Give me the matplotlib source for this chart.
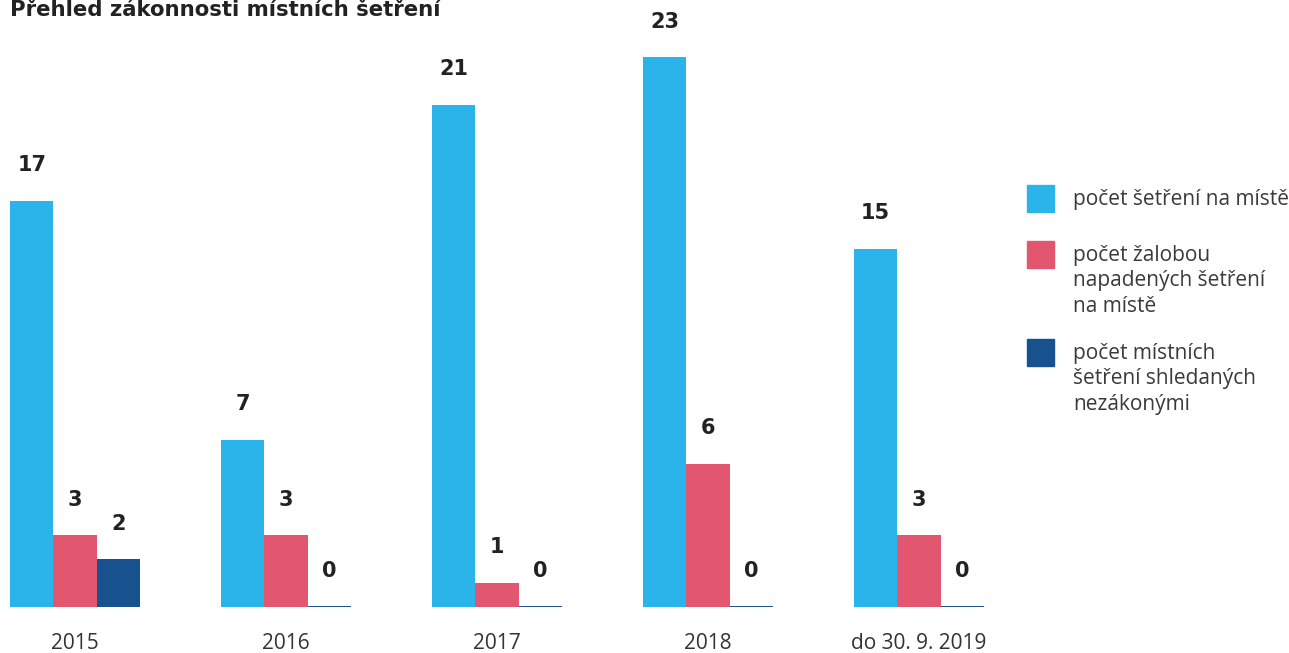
import matplotlib.pyplot as plt
from matplotlib.patches import Rectangle
import numpy as np

# data
years = ['2015', '2016', '2017', '2018', 'do 30. 9. 2019']
setreni = [17, 7, 21, 23, 15]
zalobou = [3, 3, 1, 6, 3]
nezakonne = [2, 0, 0, 0, 0]

series_labels = ['počet šetření na místě',
                 'počet žalobou\nnapadených šetření\nna místě',
                 'počet místních\nšetření shledaných\nnezákonými']
colors = ['#2bb4e9', '#e2576f', '#17528f']

plt.rcParams['font.family'] = ['Open Sans', 'DejaVu Sans']
bold_font = ['DejaVu Sans']

fig = plt.figure(figsize=(12.89, 6.53), dpi=100)
ax = fig.add_axes([0, 46 / 653, 1000 / 1289, 607 / 653])

x = np.arange(len(years))
w = 0.205
for i, (vals, col) in enumerate(zip([setreni, zalobou, nezakonne], colors)):
    pos = x + (i - 1) * w
    ax.bar(pos, vals, width=w, color=col, edgecolor=col,
           linewidth=[1.4 if v == 0 else 0 for v in vals])
    for xp, v in zip(pos, vals):
        ax.annotate(str(v), (xp, v), xytext=(0, 18.5), textcoords='offset points',
                    ha='center', va='bottom', fontsize=15, fontweight='bold',
                    color='#222222', family=bold_font)

ax.set_xlim(-75 / 211, 925 / 211)
ax.set_ylim(0, 607 / 23.9)
ax.set_xticks(x)
ax.set_xticklabels(years, fontsize=15, color='#333333')
ax.tick_params(axis='x', length=0, pad=19)
ax.set_yticks([])
for s in ax.spines.values():
    s.set_visible(False)

fig.text(10 / 1289, 1 - 15.5 / 653, 'Přehled zákonnosti místních šetření',
         fontsize=15.3, fontweight='bold', color='#222222', va='baseline',
         family=bold_font)

# legend drawn by hand
leg_tops = [185, 241, 339]
for top, lab, col in zip(leg_tops, series_labels, colors):
    fig.patches.append(Rectangle((1027 / 1289, 1 - (top + 27) / 653), 27 / 1289, 27 / 653,
                                 transform=fig.transFigure, color=col))
    fig.text(1073 / 1289, 1 - (top + 4) / 653, lab, fontsize=15, color='#3a3a3a',
             va='top', linespacing=1.27)

fig.savefig('out.png', dpi=100)
